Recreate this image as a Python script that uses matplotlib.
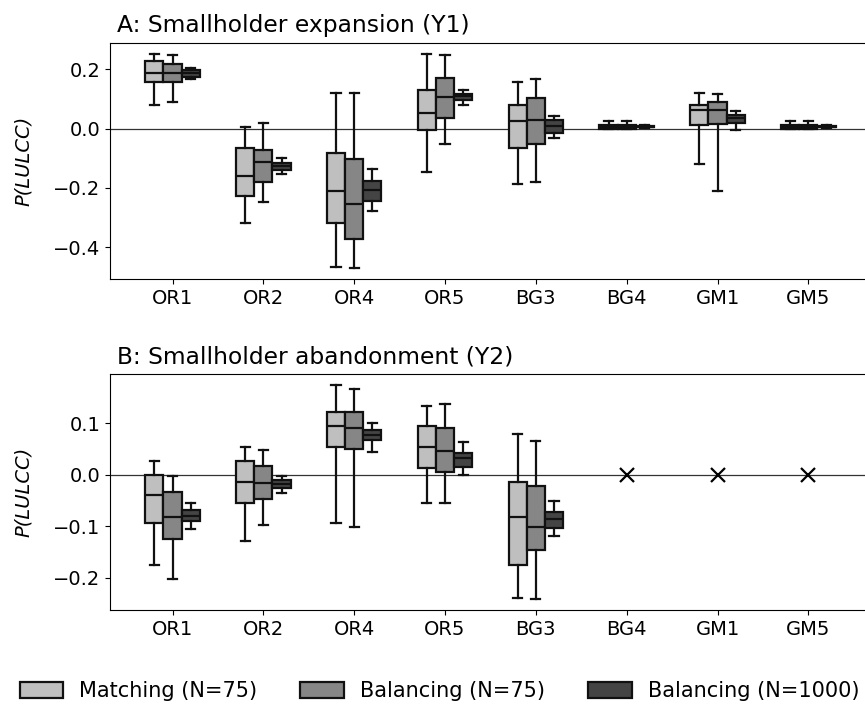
import numpy as np
import matplotlib.pyplot as plt
from matplotlib.patches import Patch

plt.rcParams['font.size'] = 14

sites = ["OR1", "OR2", "OR4", "OR5", "BG3", "BG4", "GM1", "GM5"]
methods = ["Matching (N=75)", "Balancing (N=75)", "Balancing (N=1000)"]
colors = ["#bfbfbf", "#868686", "#444444"]

# each row: [whisker low, q1, median, q3, whisker high]
a_matching = [[0.079, 0.158, 0.188, 0.227, 0.253],
              [-0.319, -0.229, -0.160, -0.067, 0.007],
              [-0.467, -0.319, -0.212, -0.082, 0.120],
              [-0.146, -0.004, 0.053, 0.130, 0.253],
              [-0.187, -0.067, 0.027, 0.079, 0.158],
              [0.000, 0.000, 0.006, 0.013, 0.027],
              [-0.121, 0.011, 0.062, 0.079, 0.120],
              [0.000, 0.000, 0.006, 0.013, 0.027]]
a_bal75 = [[0.089, 0.158, 0.188, 0.218, 0.248],
           [-0.246, -0.180, -0.112, -0.071, 0.018],
           [-0.471, -0.372, -0.256, -0.101, 0.120],
           [-0.053, 0.035, 0.107, 0.169, 0.247],
           [-0.181, -0.053, 0.028, 0.103, 0.166],
           [0.000, 0.000, 0.006, 0.013, 0.027],
           [-0.212, 0.015, 0.064, 0.089, 0.118],
           [0.000, 0.000, 0.006, 0.013, 0.027]]
a_bal1000 = [[0.167, 0.175, 0.187, 0.196, 0.206],
             [-0.152, -0.139, -0.127, -0.115, -0.099],
             [-0.278, -0.243, -0.208, -0.176, -0.135],
             [0.078, 0.096, 0.109, 0.118, 0.129],
             [-0.033, -0.016, 0.008, 0.028, 0.044],
             [0.002, 0.004, 0.007, 0.009, 0.012],
             [-0.006, 0.018, 0.035, 0.047, 0.060],
             [0.002, 0.004, 0.007, 0.009, 0.012]]

# panel B: only the first five sites have abandonment estimates
b_matching = [[-0.174, -0.094, -0.040, 0.000, 0.027],
              [-0.128, -0.054, -0.014, 0.026, 0.054],
              [-0.094, 0.053, 0.094, 0.121, 0.174],
              [-0.054, 0.014, 0.054, 0.094, 0.134],
              [-0.239, -0.174, -0.081, -0.014, 0.080]]
b_bal75 = [[-0.202, -0.125, -0.081, -0.034, -0.002],
           [-0.098, -0.047, -0.015, 0.017, 0.048],
           [-0.101, 0.050, 0.090, 0.122, 0.166],
           [-0.055, 0.005, 0.046, 0.090, 0.137],
           [-0.241, -0.145, -0.102, -0.021, 0.066]]
b_bal1000 = [[-0.106, -0.090, -0.079, -0.069, -0.055],
             [-0.035, -0.025, -0.017, -0.010, -0.003],
             [0.044, 0.068, 0.077, 0.087, 0.100],
             [0.000, 0.016, 0.032, 0.043, 0.063],
             [-0.119, -0.103, -0.085, -0.072, -0.050]]
b_missing = ["BG4", "GM1", "GM5"]
b_missing_val = [0.0, 0.0, 0.0]


def to_stats(rows):
    return [dict(whislo=r[0], q1=r[1], med=r[2], q3=r[3], whishi=r[4], fliers=[])
            for r in rows]


def draw_panel(ax, groups, title):
    ax.axhline(0, color="#333333", lw=0.9, zorder=0)
    offsets = [-0.2, 0.0, 0.2]
    for rows, off, col in zip(groups, offsets, colors):
        pos = np.arange(len(rows)) + off
        ax.bxp(to_stats(rows), positions=pos, widths=0.2, patch_artist=True,
               showfliers=False, manage_ticks=False,
               boxprops=dict(facecolor=col, edgecolor="#111111", linewidth=1.6),
               medianprops=dict(color="#111111", linewidth=1.6),
               whiskerprops=dict(color="#111111", linewidth=1.6),
               capprops=dict(color="#111111", linewidth=1.6))
    ax.set_xticks(np.arange(len(sites)))
    ax.set_xticklabels(sites)
    ax.set_xlim(-0.69, 7.69)
    ax.set_ylabel("P(LULCC)", fontstyle="italic")
    ax.yaxis.set_label_coords(-0.101, 0.5)
    ax.set_title(title, loc="left", x=0.01, fontsize=16.8, pad=8)


fig = plt.figure(figsize=(8.65, 7.07), dpi=100)
ax1 = fig.add_axes([0.127, 0.6054, 0.88, 0.334])
ax2 = fig.add_axes([0.127, 0.1375, 0.88, 0.333])

draw_panel(ax1, [a_matching, a_bal75, a_bal1000], "A: Smallholder expansion (Y1)")
draw_panel(ax2, [b_matching, b_bal75, b_bal1000], "B: Smallholder abandonment (Y2)")
ax2.plot([sites.index(s) for s in b_missing], b_missing_val, "x", color="black",
         markersize=10, markeredgewidth=1.6)
ax1.set_yticks([-0.4, -0.2, 0.0, 0.2])
ax2.set_yticks([-0.2, -0.1, 0.0, 0.1])

handles = [Patch(facecolor=c, edgecolor="#111111", linewidth=1.6) for c in colors]
fig.legend(handles, methods, loc="center left", bbox_to_anchor=(0.001, 0.022),
           ncol=3, frameon=False, fontsize=15, handlelength=2.1, handleheight=0.8,
           handletextpad=0.77, columnspacing=2.06)

fig.savefig("out.png", dpi=100)
